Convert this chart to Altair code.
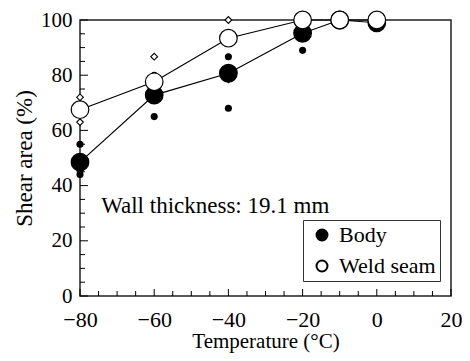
import altair as alt
import pandas as pd

# Mean curves
temps = [-80, -60, -40, -20, -10, 0]
body_mean = [48.5, 72.8, 80.7, 95.2, 100, 99]
weld_mean = [67.5, 77.6, 93.4, 100, 100, 100]

# Individual specimens
body_ind_t = [-80, -80, -80, -60, -60, -60, -40, -40, -20, 0]
body_ind_v = [55, 45.5, 44, 80, 74.5, 65, 86.7, 68, 89, 97]
weld_ind_t = [-80, -80, -60, -60, -40, -40]
weld_ind_v = [72, 63, 86.7, 72, 100, 78.5]

y_major = [0, 20, 40, 60, 80, 100]
y_minor = [v for v in range(0, 101, 5) if v % 20]
x_major = [-80, -60, -40, -20, 0, 20]
x_minor = [v for v in range(-80, 21, 5) if v % 20]

FONT = "Liberation Serif"
W, H = 371, 276

means = pd.DataFrame(
    {"t": temps * 2,
     "v": body_mean + weld_mean,
     "series": ["Body"] * len(temps) + ["Weld seam"] * len(temps)}
)
body_ind = pd.DataFrame({"t": body_ind_t, "v": body_ind_v})
weld_ind = pd.DataFrame({"t": weld_ind_t, "v": weld_ind_v})

xs = alt.Scale(domain=[-80, 20], nice=False, zero=False)
ys = alt.Scale(domain=[0, 100], nice=False)
XT = "Temperature (°C)"
YT = "Shear area (%)"

x_axis = alt.Axis(values=x_major, labelPadding=13, titlePadding=0, titleFontSize=21)
y_axis = alt.Axis(values=y_major, labelPadding=8, titlePadding=4, labelFontSize=21)

lines = alt.Chart(means).mark_line(color="black", strokeWidth=1.2).encode(
    x=alt.X("t:Q", scale=xs, axis=x_axis, title=XT),
    y=alt.Y("v:Q", scale=ys, axis=y_axis, title=YT),
    detail="series:N",
)

bdots = alt.Chart(body_ind).mark_point(filled=True, color="black", size=50, opacity=1).encode(
    x=alt.X("t:Q", scale=xs, title=XT), y=alt.Y("v:Q", scale=ys, title=YT)
)
wdia = alt.Chart(weld_ind).mark_point(shape="diamond", filled=True, fill="white",
                                      stroke="black", strokeWidth=1.1, size=45, opacity=1).encode(
    x=alt.X("t:Q", scale=xs, title=XT), y=alt.Y("v:Q", scale=ys, title=YT)
)

big = alt.Chart(means).mark_point(filled=True, stroke="black", strokeWidth=1.2,
                                  size=310, opacity=1).encode(
    x=alt.X("t:Q", scale=xs, title=XT),
    y=alt.Y("v:Q", scale=ys, title=YT),
    fill=alt.Fill("series:N",
                  scale=alt.Scale(domain=["Body", "Weld seam"], range=["black", "white"]),
                  legend=alt.Legend(title=None, orient="none", legendX=223, legendY=200,
                                    strokeColor="#333", padding=4, labelFont=FONT,
                                    labelFontSize=22, labelColor="black",
                                    symbolType="circle", symbolSize=120,
                                    symbolStrokeColor="black", symbolStrokeWidth=2,
                                    symbolOffset=4, rowPadding=9, labelOffset=6,
                                    fillColor="white", cornerRadius=0)),
)

def ticks_y(vals, length):
    return alt.Chart(pd.DataFrame({"v": vals})).mark_rule(color="black", strokeWidth=1).encode(
        y=alt.Y("v:Q", scale=ys, title=YT), x=alt.value(0), x2=alt.value(length)
    )

def ticks_x(vals, length):
    return alt.Chart(pd.DataFrame({"t": vals})).mark_rule(color="black", strokeWidth=1).encode(
        x=alt.X("t:Q", scale=xs, title=XT), y=alt.value(H), y2=alt.value(H - length)
    )

annot = alt.Chart(pd.DataFrame({"t": [-74.3], "v": [30.1], "s": ["Wall thickness: 19.1 mm"]})).mark_text(
    align="left", baseline="alphabetic", font=FONT, fontSize=23, color="black"
).encode(x=alt.X("t:Q", scale=xs, title=XT), y=alt.Y("v:Q", scale=ys, title=YT), text="s:N")

chart = alt.layer(
    ticks_y(y_major, 8), ticks_y(y_minor, 5), ticks_x(x_major, 7), ticks_x(x_minor, 5),
    lines, bdots, wdia, big, annot
).properties(
    width=W, height=H,
    autosize=alt.AutoSizeParams(type="none"),
    padding={"left": 72, "top": 12, "right": 11, "bottom": 57},
).configure(
    background="white",
    view=alt.ViewConfig(stroke="#222", strokeWidth=1.5),
    axis=alt.AxisConfig(
        ticks=False, grid=False, domain=False, labelFont=FONT, labelFontSize=22,
        labelColor="black", titleFont=FONT, titleFontSize=23, titleFontWeight="normal",
        titleColor="black", labelFlush=False),
)

chart.save("out.html", embed_options={"renderer": "svg", "actions": False})
